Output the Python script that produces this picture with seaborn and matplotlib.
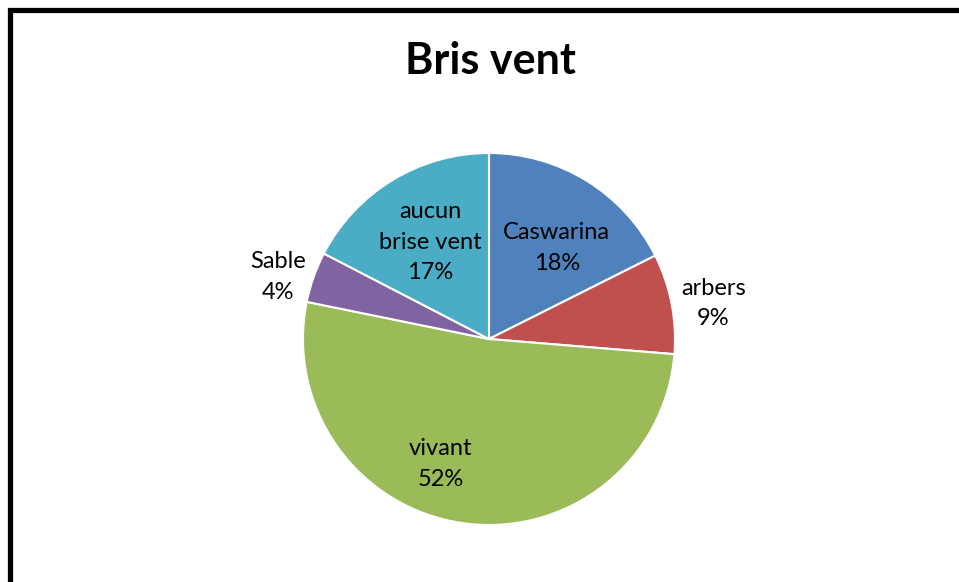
import numpy as np
import matplotlib
matplotlib.use('Agg')
import matplotlib.pyplot as plt
import matplotlib.patches as mpatches
import seaborn as sns

sns.set_theme(style='white')
plt.rcParams['font.family'] = ['Lato', 'DejaVu Sans']

# data
categories = ['Caswarina', 'arbers', 'vivant', 'Sable', 'aucun\nbrise vent']
shares = [17.6, 8.7, 51.9, 4.4, 17.4]
colors = sns.color_palette(['#4F81BD', '#C0504D', '#9BBB59', '#8064A2', '#4BACC6'])

# label placement (fraction of radius) and angular nudge in degrees
label_dist = [0.61, 1.22, 0.72, 1.18, 0.61]
label_nudge = [-5, -2, -13, 3, 0]

fig = plt.figure(figsize=(9.59, 5.82), dpi=100)
W, H = 959, 582
cx, cy, r = 489, 339, 186
ax = fig.add_axes([(cx - r) / W, (H - cy - r) / H, 2 * r / W, 2 * r / H])

wedges, _ = ax.pie(shares, colors=colors, startangle=90, counterclock=False,
                   radius=1, wedgeprops=dict(edgecolor='white', linewidth=1.5))
ax.set_xlim(-1, 1)
ax.set_ylim(-1, 1)
ax.set_aspect('auto')
ax.axis('off')

for w, name, val, d, nd in zip(wedges, categories, shares, label_dist, label_nudge):
    ang = np.deg2rad((w.theta1 + w.theta2) / 2 + nd)
    ax.text(d * np.cos(ang), d * np.sin(ang), f'{name}\n{round(val):.0f}%',
            ha='center', va='center', fontsize=17, color='black', linespacing=1.55)

fig.text(490 / W, 1 - 61 / H, 'Bris vent', ha='center', va='center',
         fontsize=31, fontweight='bold', color='black')

# outer chart frame (cut by the image edges on the right and bottom)
frame = mpatches.Rectangle((9.5 / W, -0.2), 1.2, 1.2 - 9.5 / H,
                           transform=fig.transFigure, fill=False,
                           edgecolor='black', linewidth=3.8)
fig.patches.append(frame)

fig.savefig('out.png', dpi=100, facecolor='white')
